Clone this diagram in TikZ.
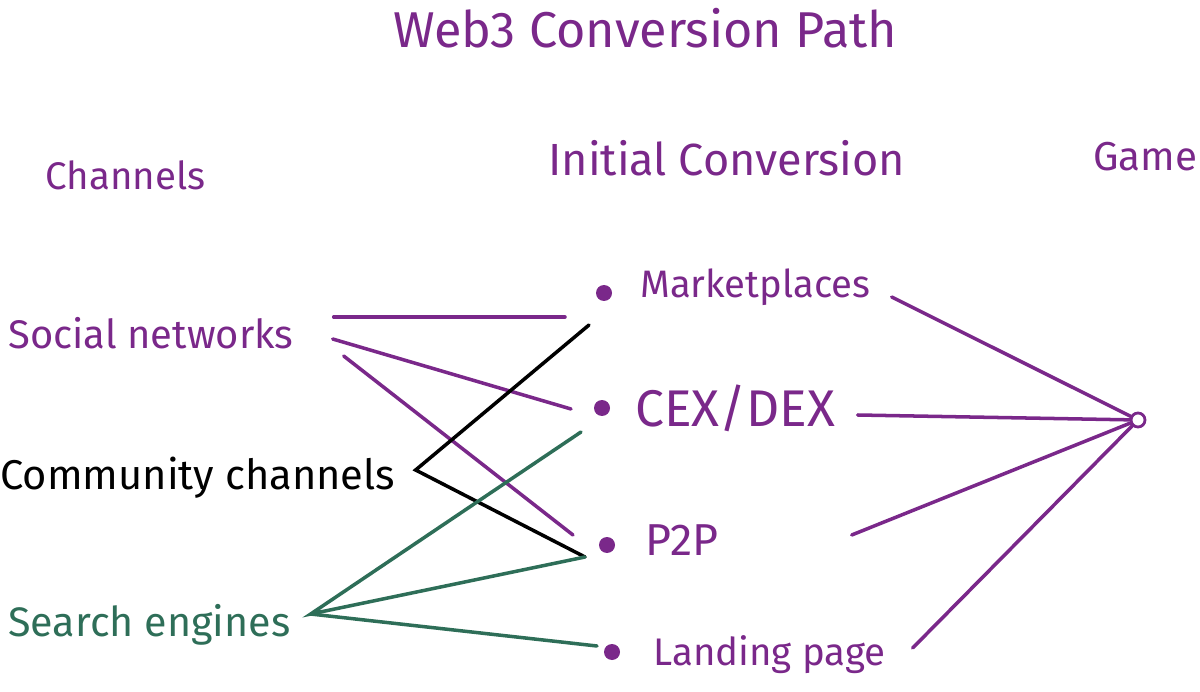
\documentclass[tikz,border=0pt]{standalone}
\usepackage{fontspec}
\setmainfont{Fira Sans}
\usepackage{graphicx}
\usetikzlibrary{calc, positioning}

\definecolor{penpurple}{RGB}{122,40,138}
\definecolor{pengreen}{RGB}{46,110,88}

% text squeezed to a given width
\newcommand{\fitw}[2]{\resizebox{#1}{!}{#2}}

\begin{document}
\begin{tikzpicture}[x=0.02cm, y=-0.02cm, line cap=round,
    lbl/.style={anchor=west, inner sep=0pt, text=penpurple},
    optdot/.style={circle, fill=penpurple, inner sep=0pt, minimum size=0.32cm},
    purpleline/.style={draw=penpurple, line width=2pt},
    greenline/.style={draw=pengreen, line width=2pt},
    blackline/.style={draw=black, line width=2pt}]
    \useasboundingbox (0,0) rectangle (1200,692);

    % 1. Tieu de va cot
    \node[lbl] (title) at (393,28) {\fitw{10.08cm}{Web3 Conversion Path}};
    \node[lbl] (colch) at (45,175) {\fitw{3.2cm}{Channels}};
    \node[lbl] (colinit) at (548,158) {\fitw{7.14cm}{Initial Conversion}};
    \node[lbl] (colgame) at (1093,157) {\fitw{2.08cm}{Game}};

    % 2. Kenh
    \node[lbl] (soc) at (8,333) {\fitw{5.7cm}{Social networks}};
    \node[lbl, text=black] (comm) at (0,478) {\fitw{7.9cm}{Community channels}};
    \node[lbl, text=pengreen] (srch) at (8,625) {\fitw{5.64cm}{Search engines}};

    % 3. Chuyen doi ban dau
    \node[optdot] (mkt) at (604,293) {};
    \node[optdot] (cex) at (602,408) {};
    \node[optdot] (p2p) at (607,545) {};
    \node[optdot] (land) at (612,652) {};
    \node[lbl] (mkttxt) at (640,287) {\fitw{4.6cm}{Marketplaces}};
    \node[lbl] (cextxt) at (635,408) {\fitw{4cm}{CEX/DEX}};
    \node[lbl] (p2ptxt) at (645,540) {\fitw{1.46cm}{P2P}};
    \node[lbl] (landtxt) at (653,655) {\fitw{4.64cm}{Landing page}};

    % 4. Game
    \node[circle, draw=penpurple, line width=1.6pt, inner sep=0pt,
        minimum size=0.28cm, fill=white] (hub) at (1138,420) {};

    % 5. Duong noi
    \draw[purpleline] ($(soc.east)+(40,-16)$) -- ($(mkt)+(-39,24)$);
    \draw[purpleline] ($(soc.east)+(39,6)$) -- ($(cex)+(-31,1)$);
    \draw[purpleline] ($(soc.east)+(50,23)$) -- ($(p2p)+(-34,-10)$);

    \coordinate (commtip) at ($(comm.east)+(20,-8)$);
    \draw[blackline] ($(mkt)+(-15,32)$) -- (commtip) -- ($(p2p)+(-22,12)$);

    \coordinate (srchtip) at ($(srch.east)+(20,-11)$);
    \draw[greenline] ($(cex)+(-21,24)$) -- (srchtip) -- ($(p2p)+(-22,12)$);
    \draw[greenline] (srchtip) -- ($(land)+(-15,-6)$);

    \draw[purpleline] ($(mkttxt.east)+(21,10)$) -- (hub);
    \draw[purpleline] ($(cextxt.east)+(22,7)$) -- (hub);
    \draw[purpleline] ($(p2ptxt.east)+(133,-5)$) -- (hub);
    \draw[purpleline] ($(landtxt.east)+(27,-7)$) -- (hub);
\end{tikzpicture}
\end{document}
